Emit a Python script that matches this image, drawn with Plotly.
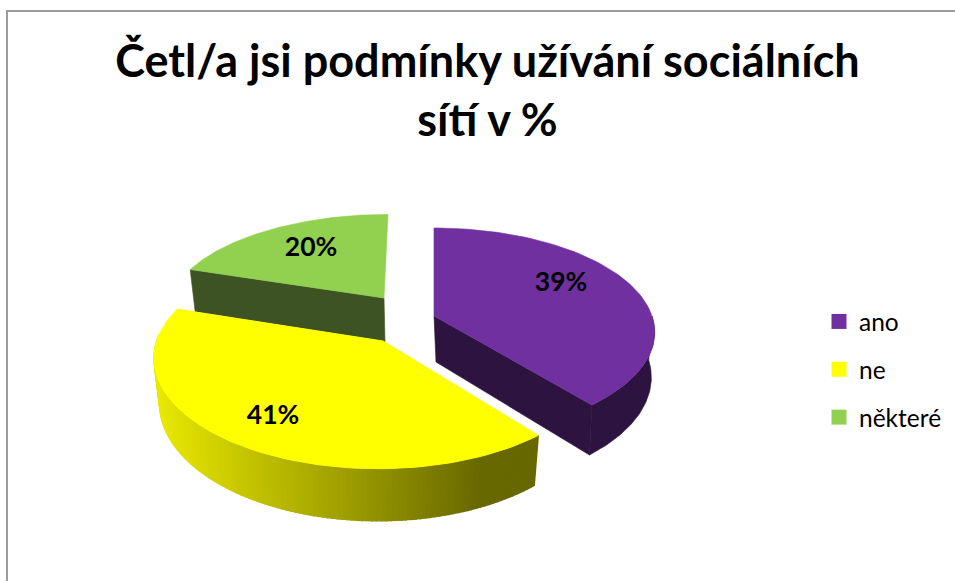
import math
import plotly.graph_objects as go

TITLE = "Četl/a jsi podmínky užívání sociálních<br>sítí v %"
categories = ["ano", "ne", "některé"]
values = [39, 41, 20]
top_colors = ["#7030A0", "#FFFF00", "#92D050"]
wall_colors = ["#2D1340", None, "#3E5323"]
labels = ["39%", "41%", "20%"]

W, H = 955, 581
FONT = "Lato"
# projection of the exploded 3D pie: arc centre, apex, x scale, y scale, bottom-rim x shrink
geom = {
    "ano": dict(c=(434, 316), apex=(434, 316), kx=1.0, ky=1.0, shrink=0.985),
    "ne": dict(c=(378, 341), apex=(383, 341), kx=1.015, ky=1.06, shrink=0.975),
    "některé": dict(c=(388, 298), apex=(384, 298), kx=1.0, ky=0.95, shrink=0.975),
}
label_pos = {"ano": (561, 284.5), "ne": (273, 417.5), "některé": (311, 249.5)}
RX, RY, K, DEPTH = 218, 101.7, 0.1557, 44


def project(g, theta, bottom=False):
    cx, cy = g["c"]
    u, v = math.sin(theta), -math.cos(theta)
    s = 1 / (1 - K * v)
    rx, ry = RX * g["kx"], RY * g["ky"]
    if bottom:
        return cx + rx * g["shrink"] * u * s, cy + ry * v * s + DEPTH * s
    return cx + rx * u * s, cy + ry * v * s


def arc(g, a0, a1, bottom=False, n=80):
    return [project(g, a0 + (a1 - a0) * i / n, bottom) for i in range(n + 1)]


def poly(fig, pts, color, lw=0.6):
    xs = [p[0] for p in pts] + [pts[0][0]]
    ys = [p[1] for p in pts] + [pts[0][1]]
    fig.add_trace(go.Scatter(x=xs, y=ys, mode="lines", fill="toself", fillcolor=color,
                             line=dict(color=color, width=lw), hoverinfo="skip", showlegend=False))


total = sum(values)
angles = {}
acc = 0.0
for c, v in zip(categories, values):
    a0 = acc / total * 2 * math.pi
    acc += v
    angles[c] = (a0, acc / total * 2 * math.pi)

fig = go.Figure()

# green slice (furthest back)
g = geom["některé"]
ax, ay = g["apex"]
a0, a1 = angles["některé"]
poly(fig, [project(g, a0), (ax, ay), (ax + 1, ay + DEPTH), project(g, a0, True)], wall_colors[2])
poly(fig, [(ax, ay)] + arc(g, a0, a1), top_colors[2])

# yellow slice: rim with a horizontal light-to-dark gradient
g = geom["ne"]
ax, ay = g["apex"]
a0, a1 = angles["ne"]
N = 120
a_vis = 1.5 * math.pi + 0.06
for i in range(N):
    t0 = a0 + (a_vis - a0) * i / N
    t1 = a0 + (a_vis - a0) * (i + 1) / N
    p = [project(g, t0), project(g, t1), project(g, t1, True), project(g, t0, True)]
    xm = (p[0][0] + p[1][0]) / 2
    f = min(1, max(0, (xm - 155) / (480 - 155)))
    v_ = 232 + (104 - 232) * f
    poly(fig, p, f"rgb({v_:.0f},{v_:.0f},0)", lw=1.4)
poly(fig, [(ax, ay)] + arc(g, a0, a1), top_colors[1], lw=1)

# purple slice
g = geom["ano"]
ax, ay = g["apex"]
a0, a1 = angles["ano"]
poly(fig, [(ax, ay), project(g, a1), project(g, a1, True), (ax + 2, ay + DEPTH + 2)], wall_colors[0])
arc_t = arc(g, 0.5 * math.pi, a1)
arc_b = arc(g, 0.5 * math.pi, a1, True)
poly(fig, arc_t + arc_b[::-1], wall_colors[0])
poly(fig, [(ax, ay)] + arc(g, a0, a1), top_colors[0])

# data labels
fig.add_trace(go.Scatter(
    x=[label_pos[c][0] for c in categories],
    y=[label_pos[c][1] for c in categories],
    text=labels, mode="text", hoverinfo="skip", showlegend=False,
    textfont=dict(family=FONT, size=26.5, color="#000000", weight="bold")))

# legend entries
for c, col in zip(categories, top_colors):
    fig.add_trace(go.Scatter(x=[None], y=[None], mode="markers", name=c, legendgroup=c,
                             marker=dict(symbol="square", size=15, color=col)))

fig.update_layout(
    width=W, height=H, autosize=False,
    margin=dict(l=0, r=0, t=0, b=0),
    paper_bgcolor="white", plot_bgcolor="white",
    xaxis=dict(range=[0, W], visible=False, fixedrange=True),
    yaxis=dict(range=[H, 0], visible=False, fixedrange=True),
    title=dict(text=TITLE, x=487.5 / W, xanchor="center", y=1 - 77 / H, yanchor="top",
               font=dict(family=FONT, size=45, color="#000000", weight="bold")),
    legend=dict(x=819 / W, y=1 - 299 / H, xanchor="left", yanchor="top", bgcolor="rgba(0,0,0,0)",
                font=dict(family=FONT, size=24.5, color="#000000"), tracegroupgap=13, itemwidth=30,
                traceorder="grouped"),
    shapes=[
        dict(type="line", xref="paper", yref="paper", x0=6 / W, x1=1, y0=1 - 11 / H, y1=1 - 11 / H,
             line=dict(color="#9C9C9C", width=2)),
        dict(type="line", xref="paper", yref="paper", x0=7 / W, x1=7 / W, y0=1 - 10 / H, y1=0,
             line=dict(color="#9C9C9C", width=2)),
    ],
)

fig.write_html("out.html", config={"displayModeBar": False},
               post_script="document.body.style.margin='0';document.body.style.overflow='hidden';")
